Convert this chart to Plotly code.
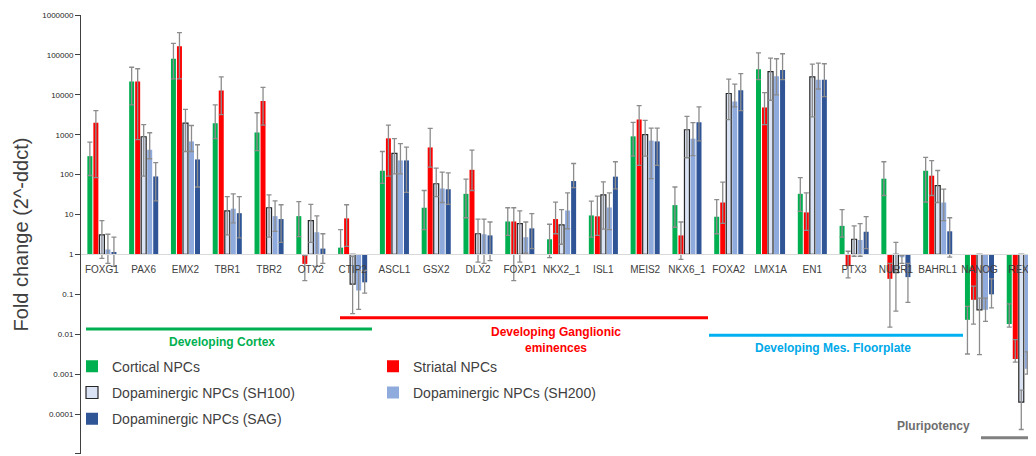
import plotly.graph_objects as go

genes = ["FOXG1", "PAX6", "EMX2", "TBR1", "TBR2", "OTX2", "CTIP2", "ASCL1", "GSX2", "DLX2",
         "FOXP1", "NKX2_1", "ISL1", "MEIS2", "NKX6_1", "FOXA2", "LMX1A", "EN1", "PTX3", "NURR1",
         "BAHRL1", "NANOG", "REX1"]

cortical = [290, 21500, 80000, 1950, 1140, 9.1, 1.48, 125, 14.8, 33, 6.7, 2.4, 9.5, 910, 17.2, 8.8, 43500, 33, 5.2, 79, 125, 0.023, 0.018]
cortical_hi = [650, 49000, 195000, 5600, 3550, 21, 4.2, 380, 40, 77, 14.8, 5.7, 21.7, 2040, 49, 23.5, 113000, 84, 13.2, 210, 270, 0.05, 0.058]
cortical_lo = [95, 5600, 25000, 800, 400, 2.8, 1.0, 60, 4.2, 8.3, 3, 0.83, 2.7, 290, 4.8, 3.3, 24000, 12, 2.7, 30, 20.6, 0.0032, 0.015]

striatal = [2000, 21500, 165000, 12900, 6950, 0.58, 8, 810, 480, 132, 6.7, 7.7, 9, 2400, 3.0, 20, 4800, 11.3, 0.51, 0.245, 94, 0.073, 0.0024]
striatal_hi = [4000, 45000, 360000, 28000, 15400, 0.95, 17.6, 1740, 1440, 410, 14.8, 20.5, 29, 5350, 6.5, 65, 11300, 35, 1.2, 0.6, 224, 0.16, 0.0073]
striatal_lo = [84, 750, 25000, 3200, 1740, 0.22, 1.6, 92, 155, 40, 0.22, 3.3, 3, 170, 0.75, 6, 1800, 4, 0.26, 0.015, 30, 0.018, 0.002]

sh100 = [3.1, 890, 1950, 12.4, 14.8, 7, 0.18, 340, 59, 3.3, 5.9, 5.5, 31, 1000, 1330, 10800, 38000, 28300, 2.4, 0.35, 53, 0.041, 0.0002]
sh100_hi = [7, 1780, 4300, 28, 31, 18, 0.9, 795, 145, 7.7, 12.4, 13.2, 66, 2290, 2870, 24600, 83000, 59000, 5.2, 2.0, 127, 0.08, 0.0004]
sh100_lo = [0.8, 92, 380, 3.1, 2.7, 2, 0.033, 105, 28, 0.64, 0.64, 1.8, 4.3, 290, 265, 2400, 7300, 2800, 0.9, 0.038, 20, 0.0031, 0.000041]

sh200 = [1.33, 420, 680, 14, 9.1, 3.6, 0.125, 227, 45, 3.2, 2.7, 12.6, 15, 710, 795, 6800, 29000, 24000, 2.3, 0.85, 20, 0.041, 0.00136]
sh200_hi = [3.2, 1120, 1700, 33, 22, 9.3, 0.4, 595, 115, 7.7, 6.5, 35, 35, 1470, 2000, 18500, 80000, 62000, 5.9, 0.95, 43.5, 0.08, 0.0036]
sh200_lo = [0.6, 250, 380, 6.2, 3.8, 0.5, 0.042, 105, 20, 0.6, 1.07, 4.4, 4.2, 79, 300, 5000, 10000, 14000, 0.9, 0.6, 7, 0.021, 0.001]

sag = [1.15, 90, 240, 10.8, 7.7, 1.4, 0.2, 227, 43, 3.0, 4.5, 69, 89, 680, 2040, 13100, 41700, 24000, 3.7, 0.27, 3.8, 0.1, 0.0003]
sag_hi = [2.7, 200, 560, 28, 17.6, 3.3, 0.4, 490, 110, 6.5, 10.5, 190, 210, 1470, 5000, 34000, 107000, 60000, 8.9, 0.6, 8.3, 0.245, 0.0008]
sag_lo = [0.5, 22, 49, 2.6, 2, 0.6, 0.107, 36, 18, 0.7, 1.4, 47, 44, 170, 700, 4000, 24000, 9000, 1.4, 0.063, 0.86, 0.046, 0.00012]

tick_vals = [1e-5, 1e-4, 1e-3, 1e-2, 1e-1, 1, 10, 100, 1000, 10000, 100000, 1000000]
tick_text = ["0.00001", "0.0001", "0.001", "0.01", "0.1", "1", "10", "100", "1000", "10000", "100000", "1000000"]

series = [
    ("Cortical NPCs", cortical, cortical_hi, cortical_lo, "#00B050", None, "legend"),
    ("Striatal NPCs", striatal, striatal_hi, striatal_lo, "#FF0000", None, "legend2"),
    ("Dopaminergic NPCs (SH100)", sh100, sh100_hi, sh100_lo, "#DAE3F3", "#262626", "legend"),
    ("Dopaminergic NPCs (SH200)", sh200, sh200_hi, sh200_lo, "#8FAADC", None, "legend2"),
    ("Dopaminergic NPCs (SAG)", sag, sag_hi, sag_lo, "#2F5597", None, "legend"),
]

BASE = 1.0
fig = go.Figure()
for i, (name, vals, hi, lo, color, outline, leg) in enumerate(series):
    fig.add_trace(go.Bar(
        name=name, x=genes,
        y=[v - BASE for v in vals], base=BASE,
        marker=dict(color=color, line=dict(color=outline or color, width=1.2 if outline else 0)),
        error_y=dict(type="data", symmetric=False,
                     array=[h - v for h, v in zip(hi, vals)],
                     arrayminus=[v - l for v, l in zip(vals, lo)],
                     color="#8C8C8C", thickness=1.3, width=2.5),
        legend=leg, legendgroup=name,
    ))

# page body has an 8px margin: the figure is shrunk by it and shifted
OFF = 8
FW, FH = 1036 - OFF, 456 - OFF
top, bottom = 15, 454          # plot area in screen pixels
L, R = 81, 1036
W = R - L
def py(p):
    return (bottom - p) / (bottom - top)
def px(p):
    return (p - L) / W

shapes = [
    dict(type="line", xref="paper", yref="paper", x0=px(86), x1=px(372), y0=py(329), y1=py(329), line=dict(color="#00B050", width=3)),
    dict(type="line", xref="paper", yref="paper", x0=px(340), x1=px(708), y0=py(317.7), y1=py(317.7), line=dict(color="#FF0000", width=3)),
    dict(type="line", xref="paper", yref="paper", x0=px(709), x1=px(963), y0=py(335.3), y1=py(335.3), line=dict(color="#00B0F0", width=3)),
    dict(type="line", xref="paper", yref="paper", x0=px(981), x1=px(1040), y0=py(437.7), y1=py(437.7), line=dict(color="#808080", width=3)),
]
ann_font = "Liberation Sans"
annotations = [
    dict(text="<b>Developing Cortex</b>", x=px(222), y=py(342), font=dict(color="#00B050", size=12, family=ann_font)),
    dict(text="<b>Developing Ganglionic<br>eminences</b>", x=px(556), y=py(340), font=dict(color="#FF0000", size=12, family=ann_font)),
    dict(text="<b>Developing Mes. Floorplate</b>", x=px(833), y=py(348.3), font=dict(color="#00A8E8", size=12, family=ann_font)),
    dict(text="<b>Pluripotency</b>", x=px(933), y=py(425.7), font=dict(color="#6E6E6E", size=12, family=ann_font)),
]
for a in annotations:
    a.update(xref="paper", yref="paper", showarrow=False, xanchor="center", yanchor="middle")

fig.update_layout(
    width=FW, height=FH,
    margin=dict(l=L - OFF, r=0, t=top - OFF, b=FH - (bottom - OFF), autoexpand=False),
    paper_bgcolor="white", plot_bgcolor="white",
    font=dict(family="Liberation Sans", color="#404040"),
    barmode="group", bargap=0.28, bargroupgap=0.17,
    xaxis=dict(type="category", range=[-0.5, -0.5 + W / 41.79], anchor="free", position=5.001 / 11.001,
               showline=True, linecolor="#D9D9D9", linewidth=1, ticks="", showgrid=False, tickangle=0,
               tickfont=dict(size=10, color="#404040"), ticklabelstandoff=6, zeroline=False, automargin=False),
    yaxis=dict(type="log", range=[-5.001, 6], tickvals=tick_vals, ticktext=tick_text, automargin=False,
               showline=True, linecolor="#404040", linewidth=1, ticks="outside", ticklen=5,
               tickcolor="#404040", showgrid=False, zeroline=False,
               tickfont=dict(size=8, color="#262626"),
               title=dict(text="Fold change (2^-ddct)", font=dict(size=20, color="#404040"), standoff=8)),
    shapes=shapes, annotations=annotations,
    legend=dict(xref="paper", yref="paper", x=px(72), y=py(350.7), xanchor="left", yanchor="top",
                orientation="v", font=dict(size=14, color="#404040"), tracegroupgap=5, bgcolor="rgba(0,0,0,0)"),
    legend2=dict(xref="paper", yref="paper", x=px(373), y=py(350.7), xanchor="left", yanchor="top",
                 orientation="v", font=dict(size=14, color="#404040"), tracegroupgap=5, bgcolor="rgba(0,0,0,0)"),
    showlegend=True,
)

fig.write_html("out.html")
